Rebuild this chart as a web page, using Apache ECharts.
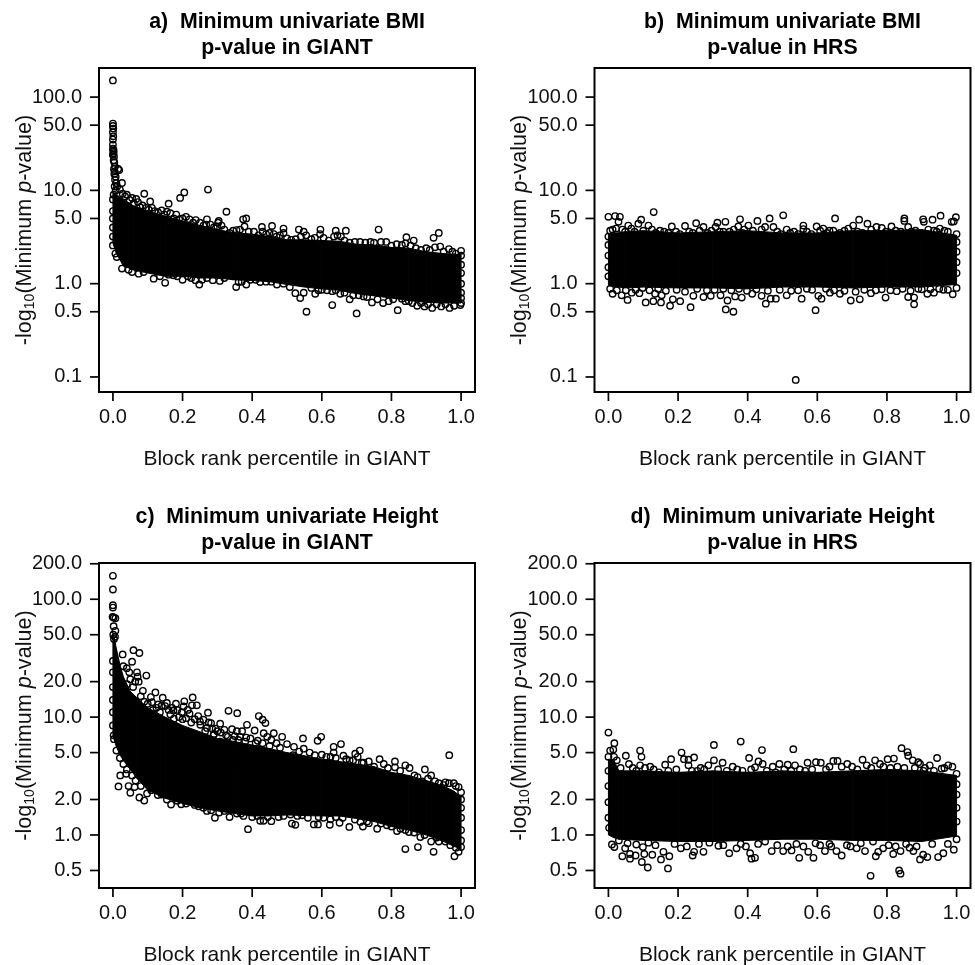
<!DOCTYPE html>
<html><head><meta charset="utf-8">
<style>html,body{margin:0;padding:0;background:#fff}#c{width:975px;height:965px}</style>
<script src="https://cdn.jsdelivr.net/npm/echarts@6/dist/echarts.min.js"></script></head>
<body><div id="c"></div>
<script>
const xTicks=[0,0.2,0.4,0.6,0.8,1];
const yTicksTop=[0.1,0.5,1,5,10,50,100];
const yTicksBottom=[0.5,1,2,5,10,20,50,100,200];
const titles=['a)  Minimum univariate BMI\np-value in GIANT','b)  Minimum univariate BMI\np-value in HRS','c)  Minimum univariate Height\np-value in GIANT','d)  Minimum univariate Height\np-value in HRS'];
const xName='Block rank percentile in GIANT';

// solid core of overlapping circles: [x, lower, upper]
const aCore=[[0,2.7,9.5],[.01,2.1,9],[.03,1.55,8],[.06,1.4,6.8],[.1,1.3,6],[.15,1.2,5.3],[.2,1.2,4.7],[.25,1.15,4.2],[.3,1.15,3.8],[.35,1.1,3.5],[.4,1.08,3.4],[.45,1.05,3.2],[.5,.98,2.95],[.55,.92,2.95],[.6,.88,2.9],[.65,.85,2.85],[.7,.78,2.65],[.75,.74,2.6],[.8,.7,2.45],[.85,.66,2.4],[.9,.63,2.2],[.95,.62,2.1],[1,.62,2.05]];
const bCore=[[0,.95,3.4],[.05,.9,3.6],[.1,.92,3.7],[.2,.9,3.5],[.3,.9,3.6],[.4,.88,3.7],[.5,.92,3.5],[.6,.92,3.5],[.7,.9,3.7],[.8,.92,3.7],[.9,.92,3.8],[1,.98,3.3]];
const cCore=[[0,7,50],[.005,6.2,45],[.01,5.6,38],[.02,4.8,28],[.03,4.3,22],[.05,3.6,16.5],[.07,3,14.5],[.1,2.4,12],[.15,2.05,10],[.2,1.85,8.5],[.25,1.7,7.5],[.3,1.6,6.6],[.35,1.52,6.2],[.4,1.45,5.8],[.45,1.45,5.4],[.5,1.48,5],[.55,1.46,4.7],[.6,1.45,4.4],[.65,1.45,4.2],[.7,1.38,4],[.75,1.3,3.8],[.8,1.18,3.4],[.85,1.1,3.2],[.9,1,2.9],[.95,.88,2.6],[.98,.8,2.35],[1,.76,2.1]];
const dCore=[[0,1,4.4],[.015,.95,4.3],[.03,.92,3.5],[.1,.9,3.5],[.2,.88,3.4],[.3,.88,3.5],[.4,.9,3.4],[.5,.92,3.5],[.6,.92,3.4],[.7,.9,3.5],[.8,.9,3.6],[.9,.88,3.5],[1,.98,3.2]];

// individually visible circles
const aPts=[[0,151],[0,52],[0,49],[.001,46],[0,42],[.001,38],[0,35],[0,31],[0,28],[.002,27],[.001,26],[.002,25],[0,24],[.003,23],[.002,21],[.004,20],[.006,18],[.015,17],[.018,16.5],[.003,17],[.005,16],[.004,15],[.008,14],[.006,13],[.01,12],[.026,12],[.005,11],[.012,11],[.008,10],[.002,9],[0,8],[0,6],[0,5],[0,4],[0,3.2],
[.09,9.2],[.067,8.1],[.107,7.6],[.16,7.2],[.193,8.3],[.205,9.5],[.273,10.2],[.326,5.9],[.27,4.9],[.304,4.7],[.302,4.5],[.374,4.9],[.383,5],[.457,4.15],[.428,4.05],[.49,3.9],[.596,3.8],[.763,3.8],[.669,3.7],[.64,3.7],[.534,3.8],[.548,3.6],[.843,3.15],[.936,3.5],[.921,3.1],[.864,2.9],
[.02,10.2],[.028,9.2],[.035,8.6],[.04,9],[.048,7.9],[.055,8.3],[.06,7.3],[.072,7.5],[.078,6.6],[.085,6.9],[.095,6.5],[.103,6.2],[.112,6.5],[.12,6],[.13,5.8],[.14,6.1],[.148,5.5],[.155,5.9],[.165,5.7],[.175,5],[.182,5.5],[.19,4.9],[.2,5],[.21,5.2],[.22,4.9],[.23,4.5],[.238,4.8],[.25,4.5],[.26,4.2],[.268,4.3],[.28,4.3],[.29,4],[.3,4.1],[.312,4.2],[.32,3.8],[.335,3.5],[.345,3.7],[.355,3.75],[.365,3.8],[.378,4.1],[.39,3.6],[.405,3.6],[.418,3.3],[.43,3.6],[.44,3.4],[.45,3.5],[.462,3.4],[.47,3.2],[.48,3.3],[.49,3.5],[.5,3.05],[.512,2.95],[.525,3],[.54,3.2],[.555,3.3],[.57,3],[.58,3.1],[.595,3.4],[.605,3.1],[.62,2.9],[.635,3.2],[.645,3.3],[.655,3.2],[.665,2.9],[.68,2.75],[.695,2.8],[.71,2.8],[.725,2.75],[.74,2.8],[.75,2.75],[.77,2.8],[.785,2.8],[.8,2.55],[.815,2.65],[.83,2.6],[.84,2.7],[.855,2.55],[.87,2.4],[.885,2.3],[.9,2.4],[.91,2.3],[.925,2.45],[.94,2.5],[.95,2.2],[.965,2.35],[.975,2.2],[.985,2.1],[1,2.25],
[.007,2.1],[.011,1.93],[0,2.57],[.026,1.45],[.045,1.41],[.055,1.33],[.074,1.28],[.088,1.33],[.117,1.13],[.15,1.02],[.174,1.23],[.2,1.1],[.237,1.09],[.248,.98],[.256,1.1],[.287,1.09],[.307,1.07],[.337,1.23],[.354,.92],[.383,.98],[.361,1.04],[.423,1.04],[.471,.98],[.508,.92],[.524,.79],[.538,.7],[.548,.8],[.556,.5],[.581,.78],[.6,.86],[.63,.59],[.63,.83],[.653,.78],[.68,.68],[.7,.48],[.706,.75],[.72,.73],[.744,.63],[.776,.62],[.792,.65],[.818,.52],[.83,.69],[.85,.65],[.874,.58],[.895,.57],[.917,.55],[.943,.57],[.967,.55],[.998,.59],
[.135,1.2],[.16,1.25],[.185,1.2],[.215,1.2],[.225,1.15],[.27,1.15],[.32,1.15],[.345,1.2],[.37,1.05],[.395,1.1],[.41,1.1],[.44,1.05],[.455,1.05],[.49,1],[.57,.9],[.59,.85],[.615,.85],[.64,.85],[.665,.8],[.69,.75],[.73,.72],[.76,.68],[.805,.68],[.84,.65],[.86,.62],[.885,.62],[.905,.6],[.93,.6],[.955,.6],[.98,.58],[1,.7],[1,.62],[1,2],[1,1.6],[1,1.3],[1,1],[1,.8]];

const bPts=[[0,5.2],[.019,5.3],[.033,5.2],[.029,4.6],[.005,3.7],[.057,4.2],[.086,4.4],[.094,4.85],[.115,4.2],[.13,5.85],[.148,3.7],[.182,4.1],[.22,4.15],[.252,4.45],[.273,4.05],[.308,4.05],[.313,4.5],[.336,4.6],[.33,3.6],[.373,4.1],[.378,4.9],[.402,4.2],[.428,4.7],[.45,4.05],[.463,5],[.474,4.05],[.502,5.4],[.512,3.8],[.533,3.6],[.56,4.2],[.56,3.85],[.598,4.1],[.617,3.9],[.646,3.7],[.651,5],[.689,3.9],[.703,4.2],[.72,4.85],[.744,4.4],[.77,4.05],[.785,3.95],[.813,4.1],[.84,3.6],[.85,5],[.85,4.7],[.861,4.05],[.904,4.9],[.906,4.6],[.931,4.85],[.954,5.35],[.986,4.6],[.992,4.65],[.998,5.15],[.952,3.9],[.919,3.8],
[.012,3.8],[.022,3.9],[.04,3.8],[.048,3.6],[.066,3.9],[.075,3.6],[.1,3.7],[.125,3.8],[.136,3.5],[.16,3.6],[.172,3.5],[.194,3.6],[.205,3.4],[.232,3.6],[.242,3.5],[.262,3.7],[.285,3.5],[.296,3.7],[.32,3.6],[.348,3.6],[.36,3.8],[.385,3.5],[.39,3.8],[.415,3.7],[.44,3.8],[.485,3.6],[.495,3.4],[.522,3.5],[.545,3.4],[.57,3.6],[.583,3.4],[.608,3.7],[.628,3.5],[.635,3.7],[.665,3.5],[.678,3.7],[.715,3.6],[.73,3.5],[.755,3.8],[.797,3.6],[.825,3.7],[.87,3.6],[.882,3.7],[.895,3.5],[.935,3.7],[.943,3.6],[.965,3.7],[.975,3.6],[1,3.4],[1,2.8],[1,2.2],[1,1.7],[1,1.3],[0,3.2],[0,2.6],[0,2],[0,1.5],[0,1.2],
[.012,.78],[.038,.75],[.055,.67],[.067,.8],[.089,.79],[.107,.63],[.129,.65],[.134,.78],[.151,.63],[.153,.75],[.177,.58],[.185,.68],[.206,.65],[.236,.56],[.244,.74],[.273,.72],[.294,.74],[.322,.75],[.337,.53],[.342,.66],[.359,.5],[.364,.73],[.383,.71],[.413,.78],[.44,.74],[.452,.61],[.466,.69],[.481,.69],[.512,.75],[.538,.093],[.555,.69],[.595,.52],[.603,.74],[.612,.69],[.636,.8],[.665,.78],[.696,.66],[.722,.68],[.754,.79],[.796,.71],[.828,.83],[.861,.72],[.878,.6],[.878,.71],[.9,.87],[.916,.78],[.935,.8],[.962,.86],[.989,.77],
[.005,.88],[.024,.85],[.05,.85],[.078,.86],[.098,.9],[.118,.85],[.143,.88],[.165,.84],[.196,.86],[.22,.82],[.255,.88],[.283,.85],[.305,.86],[.33,.88],[.353,.85],[.375,.88],[.398,.84],[.425,.87],[.458,.84],[.492,.86],[.525,.84],[.545,.85],[.57,.88],[.585,.86],[.625,.88],[.648,.85],[.678,.84],[.71,.82],[.735,.86],[.768,.85],[.785,.87],[.81,.85],[.845,.88],[.868,.84],[.89,.88],[.925,.87],[.95,.88],[.975,.86],[1,.9]];

const cPts=[[0,158],[0,121],[0,89],[0,85],[-.001,71],[.007,69],[.002,70],[.002,59],[.007,54],[.001,50],[.006,48],[.003,46],
[.059,37],[.076,35],[.028,34],[.055,29.5],[.069,24],[.071,22],[.096,22.5],[.064,20],[.074,20],[.086,16.7],[.122,16.2],[.143,14.6],[.109,14.8],[.112,13.4],[.155,13.2],[.15,12.4],[.181,13],[.205,13.6],[.229,14.7],[.241,12.6],[.227,12.6],[.203,12.3],[.174,11.4],[.198,11],[.22,10.7],[.273,10.9],[.332,11.3],[.357,10.8],[.419,10.2],[.43,9.5],[.438,8.9],[.385,8.6],[.308,8.8],[.282,8.9],[.275,9],[.251,8.6],[.342,7.9],[.356,7.6],[.371,7.6],[.407,7.7],[.433,7.3],[.462,7.3],[.443,6.8],[.486,6.8],[.383,6.7],[.546,6.6],[.598,6.8],[.588,6.3],[.416,6.3],
[.04,26],[.03,27],[.047,24],[.05,21],[.058,18],[.04,19],[.08,15],[.09,13.5],[.1,13],[.125,12],[.135,11],[.165,10.5],[.19,10],[.21,9.8],[.235,9.6],[.26,9.5],[.14,12.5],[.17,12],[.295,8],[.31,7.4],[.325,7],[.35,6.9],[.365,6.8],[.395,6.6],[.345,6.4],[.47,6],[.455,6.4],[.5,5.9],[.52,5.6],
[.115,11.5],[.13,12.8],[.16,11.5],[.185,11.5],[.215,11.5],[.245,10.2],[.25,9.2],[.225,9],[.2,9.6],[.175,9.7],[.27,8.1],[.285,8],[.3,7.6],[.32,7.8],[.265,7.6],[.33,6.8],[.29,7.2],[.36,6.4],[.38,6.2],[.41,6],[.43,6],[.45,5.7],[.48,5.5],[.535,5.1],[.565,5],[.6,4.8],[.625,4.6],[.64,4.5],[.67,4.4],[.69,4.3],[.715,4.1],
[.655,5.9],[.548,5.4],[.634,5.6],[.709,5.2],[.634,5],[.662,4.7],[.696,4.9],[.703,4.6],[.966,4.75],[.613,4.6],[.58,4.75],[.68,4.3],[.735,4.2],[.766,4.4],[.81,4.2],[.778,4],[.81,3.75],[.84,3.9],[.852,3.7],[.896,3.6],[.914,3.2],[.866,3.2],[.936,2.75],[.965,2.75],[.979,2.75],[.993,2.55],[.95,2.65],[.888,2.85],[.83,3],[.517,4.75],[.5,4.4],[.47,4.75],[.414,5.4],[.385,4.75],[.366,4.5],[.347,4.3],[.308,6.2],[.327,5.6],[.289,7],
[.75,3.8],[.72,4.1],[.79,3.7],[.825,3.5],[.875,3.1],[.905,3],[.925,2.85],[.955,2.8],[.985,2.6],[1,2.3],[1,2],[1,1.7],[1,1.4],[1,1.1],[1,.9],[0,30],[0,24],[0,18],[0,14],[0,11],[0,8.5],[.002,7],
[.016,2.58],[.021,3.2],[.038,3.3],[.045,2.6],[.062,2.55],[.05,2.28],[.076,2.08],[.09,1.96],[.098,2.25],[.129,2.18],[.167,1.81],[.196,1.82],[.179,2.1],[.222,2],[.246,1.75],[.26,1.7],[.282,1.62],[.293,1.4],[.335,1.42],[.337,1.62],[.356,1.52],[.368,1.52],[.388,1.12],[.423,1.32],[.433,1.32],[.455,1.31],[.476,1.42],[.51,1.49],[.514,1.25],[.524,1.22],[.543,1.47],[.577,1.23],[.589,1.23],[.591,1.42],[.623,1.22],[.625,1.36],[.651,1.27],[.679,1.17],[.711,1.29],[.718,1.18],[.735,1.26],[.759,1.13],[.787,1.21],[.816,1.08],[.826,1.13],[.84,.76],[.85,1.06],[.876,.79],[.883,.96],[.914,.88],[.921,.72],[.936,.88],[.969,.82],[.981,.66],[.993,.72],[1,.79],
[.003,6.5],[.01,5.2],[.02,4.5],[.03,4],[.04,3.6],[.055,3.2],[.065,2.9],[.08,2.6],[.11,2.4],[.14,2.2],[.155,2],[.185,1.95],[.21,1.85],[.235,1.8],[.27,1.6],[.305,1.55],[.32,1.6],[.375,1.45],[.4,1.42],[.415,1.45],[.445,1.42],[.49,1.45],[.53,1.45],[.56,1.4],[.605,1.4],[.64,1.42],[.66,1.4],[.695,1.35],[.73,1.3],[.77,1.25],[.8,1.18],[.84,1.1],[.865,1.05],[.895,1],[.93,.95],[.955,.88],[.985,.78]];

const dPts=[[0,7.4],[.017,6],[.005,5.2],[.014,5.3],[0,4.6],[.016,4.6],[.024,4.3],[.05,4.7],[.059,4],[.091,5.2],[.095,4.6],[.091,3.9],[.12,3.8],[.163,3.95],[.18,4.4],[.21,5],[.217,4.4],[.23,4.35],[.246,4.55],[.23,3.9],[.265,3.7],[.287,3.9],[.303,5.8],[.303,4.3],[.328,4.1],[.357,3.8],[.38,6.2],[.404,4.5],[.421,3.75],[.431,4.2],[.441,5.25],[.443,4],[.472,3.8],[.491,4],[.515,3.95],[.531,5.35],[.536,3.9],[.572,4.1],[.596,4.15],[.61,4.1],[.646,4.25],[.658,4.25],[.686,4],[.73,4.35],[.742,3.9],[.766,4.3],[.78,4],[.802,4.4],[.82,4.45],[.842,5.45],[.859,5.05],[.861,4.7],[.874,4.3],[.89,4.15],[.895,4],[.909,3.7],[.923,3.9],[.944,4.5],[.976,3.9],[.988,3.8],[.957,3.65],
[.035,3.7],[.07,3.7],[.08,3.5],[.105,3.7],[.13,3.6],[.145,3.4],[.172,3.5],[.195,3.6],[.24,3.5],[.255,3.5],[.275,3.6],[.315,3.6],[.34,3.5],[.37,3.6],[.385,3.5],[.41,3.6],[.455,3.5],[.48,3.4],[.505,3.6],[.525,3.5],[.55,3.6],[.565,3.5],[.585,3.6],[.625,3.6],[.635,3.8],[.67,3.8],[.7,3.8],[.715,3.6],[.755,3.7],[.79,3.8],[.81,3.7],[.83,3.8],[.85,3.7],[.88,3.7],[.905,3.5],[.935,3.5],[.965,3.7],[1,3.3],[1,2.7],[1,2.2],[1,1.7],[1,1.3],[0,3.5],[0,2.6],[0,1.9],[0,1.4],[.002,1.15],
[.01,.83],[.017,.79],[.04,.66],[.048,.77],[.062,.63],[.062,.69],[.078,.67],[.096,.59],[.103,.69],[.099,.79],[.113,.53],[.126,.68],[.151,.62],[.158,.72],[.171,.52],[.175,.66],[.208,.77],[.242,.67],[.246,.72],[.273,.72],[.316,.81],[.347,.7],[.368,.77],[.411,.63],[.421,.64],[.407,.7],[.469,.73],[.502,.73],[.526,.74],[.548,.64],[.574,.72],[.589,.64],[.608,.82],[.622,.73],[.655,.73],[.67,.67],[.713,.77],[.737,.73],[.753,.45],[.768,.66],[.775,.72],[.789,.77],[.818,.69],[.835,.5],[.839,.47],[.839,.73],[.876,.73],[.895,.62],[.916,.65],[.904,.68],[.947,.65],[.962,.7],[.992,.75],
[.03,.9],[.055,.85],[.08,.83],[.115,.86],[.135,.82],[.19,.84],[.225,.8],[.26,.84],[.29,.86],[.33,.82],[.38,.84],[.395,.8],[.43,.84],[.45,.88],[.485,.82],[.515,.8],[.54,.84],[.56,.8],[.595,.85],[.635,.84],[.64,.8],[.685,.82],[.695,.8],[.725,.85],[.76,.88],[.805,.82],[.825,.8],[.855,.84],[.865,.78],[.885,.8],[.93,.84],[.975,.84],[1,.92]];

const fontFamily='"Liberation Sans", Arial, sans-serif';
const lay=[{l:99,t:68,h:324,core:aCore,pts:aPts,yt:yTicksTop,min:.069,max:205},
 {l:594.5,t:68,h:324,core:bCore,pts:bPts,yt:yTicksTop,min:.069,max:205},
 {l:99,t:563,h:325,core:cCore,pts:cPts,yt:yTicksBottom,min:.355,max:203},
 {l:594.5,t:563,h:325,core:dCore,pts:dPts,yt:yTicksBottom,min:.355,max:203}];
const W=376, xMin=-.04, xMax=1.04, tickLen=9;
const ink='#111';
const line={show:false,onZero:false};
const option={animation:false,backgroundColor:'#fff',
 title:lay.map((p,i)=>({text:titles[i],left:p.l+W/2-5,top:p.t-64,textAlign:'center',textStyle:{fontFamily,fontSize:21.3,fontWeight:'bold',color:'#000',lineHeight:26}})),
 grid:lay.map(p=>({left:p.l,top:p.t,width:W,height:p.h,show:true,borderColor:'#000',borderWidth:2,backgroundColor:'#fff',outerBoundsMode:'none'})),
 xAxis:lay.map((p,i)=>({gridIndex:i,type:'value',position:'bottom',min:xMin,max:xMax,splitLine:{show:false},axisLine:line,
   axisTick:{show:false},
   axisLabel:{customValues:xTicks,formatter:v=>(+v).toFixed(1),fontFamily,fontSize:20,color:ink,margin:15},
   name:xName,nameLocation:'middle',nameGap:57,nameMoveOverlap:false,nameTextStyle:{fontFamily,fontSize:21,color:ink}})),
 yAxis:lay.map((p,i)=>({gridIndex:i,type:'log',logBase:10,position:'left',min:p.min,max:p.max,splitLine:{show:false},minorTick:{show:false},axisLine:line,
   axisTick:{show:false},
   axisLabel:{customValues:p.yt,formatter:v=>(+v).toFixed(1),fontFamily,fontSize:20,color:ink,margin:17},
   name:'-log{s|10}(Minimum {i|p}-value)',nameLocation:'middle',nameGap:62,nameRotate:90,nameMoveOverlap:false,
   nameTextStyle:{fontFamily,fontSize:21.6,color:ink,rich:{s:{fontFamily,fontSize:14,color:ink,verticalAlign:'bottom',padding:[10,0,0,0]},i:{fontFamily,fontSize:21.6,fontStyle:'italic',color:ink}}}})),
 series:lay.flatMap((p,i)=>[
  {type:'custom',xAxisIndex:i,yAxisIndex:i,silent:true,clip:false,data:p.core,encode:{x:0,y:[1,2]},z:2,
   renderItem:(params,api)=>{
     const k=params.dataIndex, n=p.core[k+1];
     if(!n) return null;
     const c=p.core[k];
     return {type:'polygon',shape:{points:[api.coord([c[0],c[1]]),api.coord([n[0],n[1]]),api.coord([n[0],n[2]]),api.coord([c[0],c[2]])]},style:{fill:'#000',stroke:'#000',lineWidth:1}};
   }},
  {type:'scatter',xAxisIndex:i,yAxisIndex:i,silent:true,data:p.pts,symbol:'circle',symbolSize:6.4,z:3,large:false,
   itemStyle:{color:'rgba(0,0,0,0)',borderColor:'#000',borderWidth:1.4,opacity:1}},
  // y-axis tick marks, placed through the log scale
  {type:'custom',xAxisIndex:i,yAxisIndex:i,silent:true,clip:false,z:20,data:p.yt.map(v=>[xMin,v]),encode:{x:0,y:1},
   renderItem:(params,api)=>{
     const c=api.coord([api.value(0),api.value(1)]);
     return {type:'line',shape:{x1:c[0],y1:c[1],x2:c[0]-tickLen,y2:c[1]},style:{stroke:'#000',lineWidth:1.7,fill:null}};
   }},
  // x-axis tick marks
  {type:'custom',xAxisIndex:i,yAxisIndex:i,silent:true,clip:false,z:20,data:xTicks.map(v=>[v,p.min]),encode:{x:0,y:1},
   renderItem:(params,api)=>{
     const c=api.coord([api.value(0),api.value(1)]);
     return {type:'line',shape:{x1:c[0],y1:c[1],x2:c[0],y2:c[1]+tickLen},style:{stroke:'#000',lineWidth:1.7,fill:null}};
   }}
 ])};
const chart=echarts.init(document.getElementById('c'),null,{renderer:'canvas'});
chart.setOption(option);
</script></body></html>
